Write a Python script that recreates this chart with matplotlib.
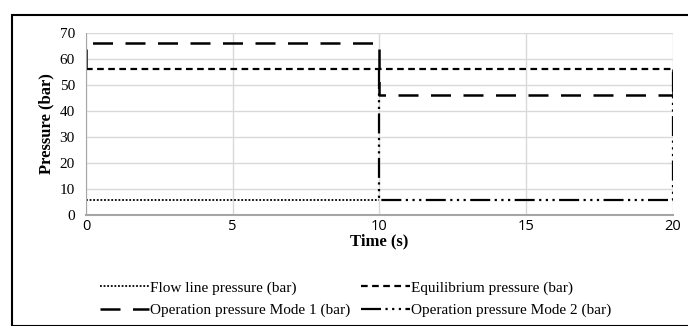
import matplotlib.pyplot as plt
from matplotlib.patches import Rectangle

# data
flow_t = [0, 10]
flow_p = [6, 6]
eq_t = [0, 20]
eq_p = [56, 56]
mode1_t = [0, 0, 10, 10, 20, 20]
mode1_p = [56, 66, 66, 46, 46, 56]
mode2_t = [10, 10, 20, 20]
mode2_p = [56, 6, 6, 56]

labels = ["Flow line pressure (bar)", "Equilibrium pressure (bar)",
          "Operation pressure Mode 1 (bar)", "Operation pressure Mode 2 (bar)"]

serif = "Liberation Serif"

fig = plt.figure(figsize=(6.88, 3.26), dpi=100)
ax = fig.add_axes([0.125, 0.34, 0.853, 0.559])

l1, = ax.plot(flow_t, flow_p, color="black", lw=1.3, linestyle=(0, (1, 1)))
l2, = ax.plot(eq_t, eq_p, color="black", lw=1.6, linestyle=(0, (3, 2)))
l3, = ax.plot(mode1_t, mode1_p, color="black", lw=1.8, linestyle=(0, (8, 5)))
l4, = ax.plot(mode2_t, mode2_p, color="black", lw=1.6,
              linestyle=(0, (9, 2, 1, 2, 1, 2, 1, 2)))

ax.set_xlim(0, 20)
ax.set_ylim(0, 70)
ax.set_xticks([0, 5, 10, 15, 20])
ax.set_yticks(range(0, 71, 10))
ax.grid(True, color="#d9d9d9", lw=1)
ax.set_axisbelow(True)
for s in ["top", "right"]:
    ax.spines[s].set_visible(False)
ax.spines["left"].set_color("#a6a6a6")
ax.spines["bottom"].set_color("#a6a6a6")
ax.spines["bottom"].set_linewidth(1.5)
ax.tick_params(axis="y", length=0, pad=8)
ax.tick_params(axis="x", length=0, pad=3)
for t in ax.get_yticklabels():
    t.set_fontfamily(serif)
    t.set_fontsize(11)
for t in ax.get_xticklabels():
    t.set_fontfamily("Open Sans")
    t.set_fontsize(10.5)

ax.set_ylabel("Pressure (bar)", family=serif, fontsize=12, fontweight="bold", labelpad=4)
ax.set_xlabel("Time (s)", family=serif, fontsize=12, fontweight="bold", labelpad=-1)

# matplotlib fills legend column by column, reference reads row by row
handles = [l1, l3, l2, l4]
order = [labels[0], labels[2], labels[1], labels[3]]
fig.legend(handles, order, loc="lower center", ncol=2,
           bbox_to_anchor=(0.517, -0.015), frameon=False,
           prop={"family": serif, "size": 11}, handlelength=3.2,
           handletextpad=0.1, columnspacing=0.7, labelspacing=0.55)

fig.patches.append(Rectangle((12 / 688, 0), 1, 1 - 15 / 326, transform=fig.transFigure,
                             fill=False, edgecolor="black", lw=1.5))

fig.savefig("out.png", dpi=100)
